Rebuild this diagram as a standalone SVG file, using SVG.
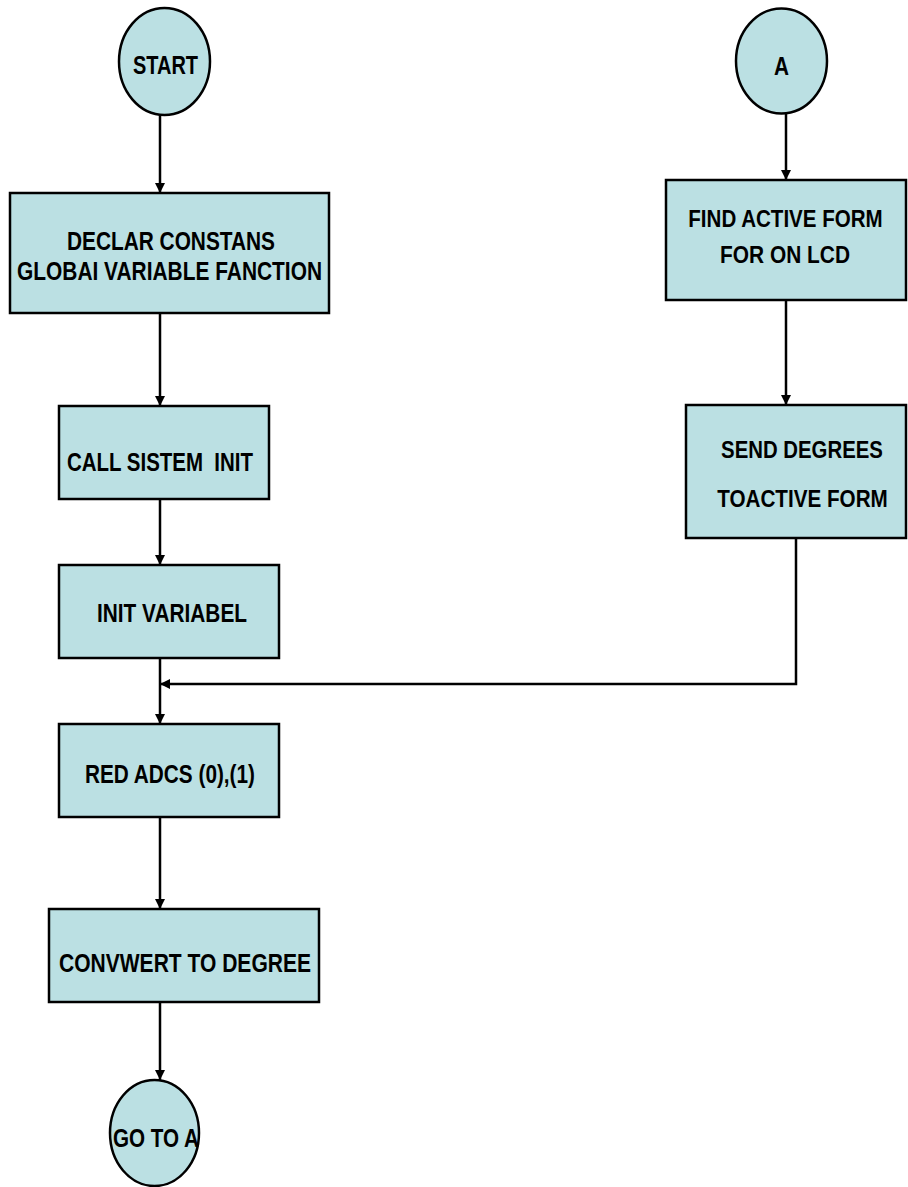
<svg xmlns="http://www.w3.org/2000/svg" width="908" height="1187" viewBox="0 0 908 1187">
<style>
.n{fill:#BBE0E3;stroke:#000;stroke-width:2.5}
.t{font-family:"Liberation Sans",Arial,sans-serif;font-weight:bold;font-size:26px;fill:#000;white-space:pre}
.r{font-size:24px}
.c{fill:none;stroke:#000;stroke-width:2.5}
</style>
<defs>
<marker id="ah" viewBox="0 0 10 10" refX="10" refY="5" markerWidth="4" markerHeight="4" markerUnits="strokeWidth" orient="auto">
<path d="M0,0 L10,5 L0,10 z" fill="#000"/>
</marker>
</defs>
<rect width="908" height="1187" fill="#fff"/>
<g id="connectors">
<path class="c" d="M160,115 V193" marker-end="url(#ah)"/>
<path class="c" d="M160,313 V406" marker-end="url(#ah)"/>
<path class="c" d="M160,499 V565" marker-end="url(#ah)"/>
<path class="c" d="M160,658 V724" marker-end="url(#ah)"/>
<path class="c" d="M796,538 V684 H160" marker-end="url(#ah)"/>
<path class="c" d="M160,817 V909" marker-end="url(#ah)"/>
<path class="c" d="M160,1002 V1080" marker-end="url(#ah)"/>
<path class="c" d="M786,113 V180" marker-end="url(#ah)"/>
<path class="c" d="M786,300 V405" marker-end="url(#ah)"/>
</g>
<g id="start">
<ellipse class="n" cx="164.5" cy="61.5" rx="45.5" ry="53.5"/>
<text class="t" x="165.5" y="74" text-anchor="middle" textLength="65" lengthAdjust="spacingAndGlyphs">START</text>
</g>
<g id="declar">
<rect class="n" x="10" y="193" width="319" height="120"/>
<text class="t" x="171" y="250" text-anchor="middle" textLength="208" lengthAdjust="spacingAndGlyphs">DECLAR CONSTANS</text>
<text class="t" x="169.5" y="280" text-anchor="middle" textLength="305" lengthAdjust="spacingAndGlyphs">GLOBAI VARIABLE FANCTION</text>
</g>
<g id="callinit">
<rect class="n" x="59" y="406" width="210" height="93"/>
<text class="t" x="160" y="471" text-anchor="middle" textLength="186" lengthAdjust="spacingAndGlyphs">CALL SISTEM  INIT</text>
</g>
<g id="initvar">
<rect class="n" x="59" y="565" width="220" height="93"/>
<text class="t" x="172" y="622" text-anchor="middle" textLength="150" lengthAdjust="spacingAndGlyphs">INIT VARIABEL</text>
</g>
<g id="redadcs">
<rect class="n" x="59" y="724" width="220" height="93"/>
<text class="t" x="170" y="783" text-anchor="middle" textLength="170" lengthAdjust="spacingAndGlyphs">RED ADCS (0),(1)</text>
</g>
<g id="convert">
<rect class="n" x="49" y="909" width="270" height="93"/>
<text class="t" x="185" y="972" text-anchor="middle" textLength="252" lengthAdjust="spacingAndGlyphs">CONVWERT TO DEGREE</text>
</g>
<g id="gotoa">
<ellipse class="n" cx="154.5" cy="1133" rx="44.5" ry="53"/>
<text class="t" x="156" y="1147" text-anchor="middle" textLength="86" lengthAdjust="spacingAndGlyphs">GO TO A</text>
</g>
<g id="a">
<ellipse class="n" cx="781.5" cy="61" rx="45.5" ry="52.5"/>
<text class="t" x="781.5" y="75" text-anchor="middle" textLength="15" lengthAdjust="spacingAndGlyphs">A</text>
</g>
<g id="findform">
<rect class="n" x="666" y="180" width="240" height="120"/>
<text class="t r" transform="translate(785.5,227) scale(0.857,1)" text-anchor="middle">FIND ACTIVE FORM</text>
<text class="t r" transform="translate(785,263) scale(0.871,1)" text-anchor="middle">FOR ON LCD</text>
</g>
<g id="senddeg">
<rect class="n" x="686" y="405" width="220" height="133"/>
<text class="t r" transform="translate(802,458) scale(0.849,1)" text-anchor="middle">SEND DEGREES</text>
<text class="t r" transform="translate(802.5,507) scale(0.861,1)" text-anchor="middle">TOACTIVE FORM</text>
</g>
</svg>
